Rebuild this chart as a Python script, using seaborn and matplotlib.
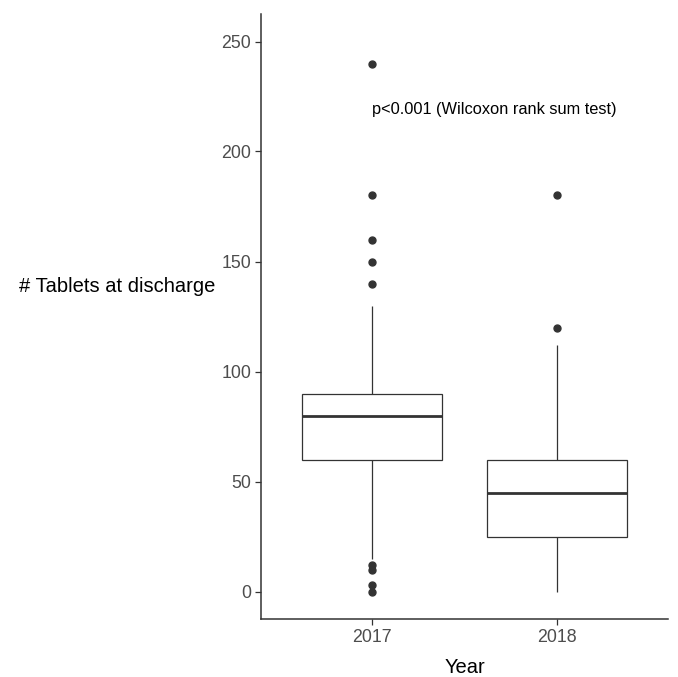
import seaborn as sns
import pandas as pd
import matplotlib.pyplot as plt

# tablets prescribed at discharge, per patient
tablets_2017 = [0, 3, 10, 12, 15, 20, 30, 40, 50,
                60, 60, 60, 60, 60, 60, 70, 75,
                80, 80, 80, 80, 80, 80, 80, 85,
                90, 90, 90, 90, 90, 90, 100, 110, 120, 130,
                140, 150, 160, 180, 240]
tablets_2018 = [0, 5, 10, 15, 20, 25, 25, 25, 25, 25,
                30, 35, 40, 45, 45, 45, 45, 45, 50, 55,
                60, 60, 60, 60, 60, 70, 80, 90, 100, 112,
                120, 180]
years = ["2017", "2018"]
y_ticks = [0, 50, 100, 150, 200, 250]
note = "p<0.001 (Wilcoxon rank sum test)"

df = pd.DataFrame({
    "Year": [years[0]] * len(tablets_2017) + [years[1]] * len(tablets_2018),
    "Tablets": tablets_2017 + tablets_2018,
})

sns.set_style("white")
plt.rcParams["font.family"] = ["Liberation Sans", "DejaVu Sans"]

fig = plt.figure(figsize=(6.78, 6.77), dpi=100)
ax = fig.add_axes([261 / 678, 1 - 619 / 677, 407 / 678, 605 / 677])

dark = "#333333"
sns.boxplot(data=df, x="Year", y="Tablets", order=years, ax=ax, width=0.76,
            color="white", linecolor=dark, linewidth=0.9, whis=1.5,
            showcaps=False,
            medianprops={"linewidth": 2.0, "color": dark},
            flierprops={"marker": "o", "markersize": 5, "markerfacecolor": dark,
                        "markeredgecolor": dark})

ax.text(0, 219, note, ha="left", va="center", fontsize=11.8, color="black")

ax.set_xlim(-0.6, 1.6)
ax.set_ylim(-12.5, 262.5)
ax.set_yticks(y_ticks)
ax.tick_params(axis="both", colors=dark, labelcolor="#4D4D4D", labelsize=12.8,
               length=4, width=0.9, left=True, bottom=True, pad=3)
for side in ["top", "right"]:
    ax.spines[side].set_visible(False)
for side in ["left", "bottom"]:
    ax.spines[side].set_color(dark)
    ax.spines[side].set_linewidth(1.1)

ax.set_xlabel("Year", fontsize=14.5, color="black", labelpad=9)
ax.set_ylabel("# Tablets at discharge", fontsize=14.5, color="black",
              rotation=0, ha="right", va="center")
ax.yaxis.set_label_coords(-0.113, 0.549)

plt.savefig("out.png", dpi=100)
plt.close()
